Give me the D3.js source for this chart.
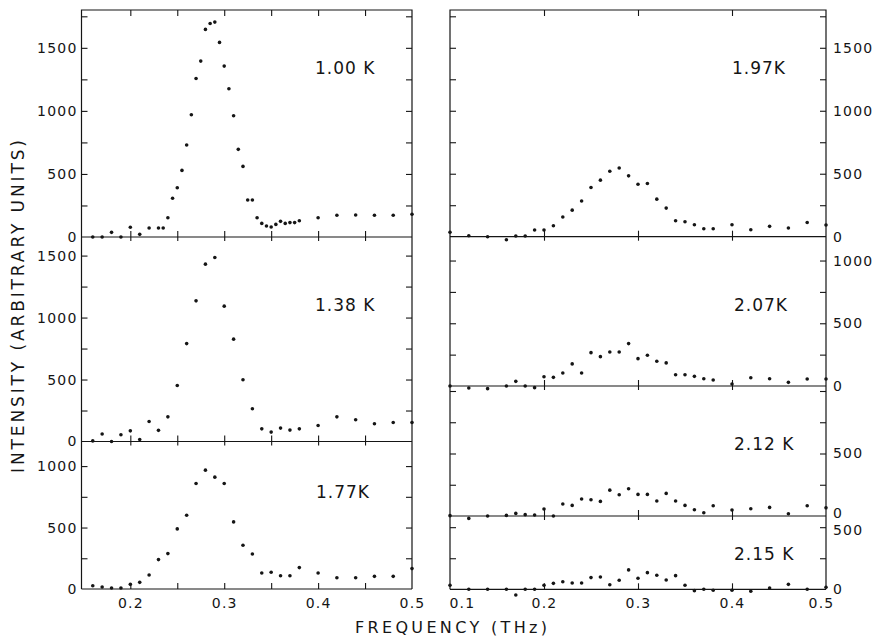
<!DOCTYPE html>
<html>
<head>
<meta charset="utf-8">
<script src="https://cdn.jsdelivr.net/npm/d3@7"></script>
<style>
  body { margin: 0; background: #fff; }
  svg text { font-family: "DejaVu Sans", sans-serif; fill: #151515; }
</style>
</head>
<body>
<svg id="chart" width="873" height="639"></svg>
<script>
// ---- data (frequency in THz, intensity in arbitrary units) ----
const freq100 = [0.16,0.17,0.18,0.19,0.20,0.21,0.22,0.23,0.235,0.24,0.245,0.25,0.255,0.26,0.265,0.27,0.275,0.28,0.285,0.29,0.295,0.30,0.305,0.31,0.315,0.32,0.325,0.33,0.335,0.34,0.345,0.35,0.355,0.36,0.365,0.37,0.375,0.38,0.40,0.42,0.44,0.46,0.48,0.50]
const int100 = [0,0,37,0,77,21,71,71,71,153,307,391,528,729,969,1257,1395,1646,1693,1704,1543,1355,1175,961,695,560,293,293,153,108,87,79,100,124,108,114,114,129,153,172,175,172,172,180]

const freqLeft = [0.16,0.17,0.18,0.19,0.20,0.21,0.22,0.23,0.24,0.25,0.26,0.27,0.28,0.29,0.30,0.31,0.32,0.33,0.34,0.35,0.36,0.37,0.38,0.40,0.42,0.44,0.46,0.48,0.50]
const int138 = [5,60,0,54,86,16,161,90,199,452,790,1135,1431,1484,1092,826,498,264,102,76,108,92,102,129,199,175,143,153,153]
const int177 = [27,16,8,8,38,54,114,239,288,489,600,858,967,910,858,546,356,285,130,136,108,108,174,130,92,92,103,103,166]

const freqRight = [0.10,0.12,0.14,0.16,0.17,0.18,0.19,0.20,0.21,0.22,0.23,0.24,0.25,0.26,0.27,0.28,0.29,0.30,0.31,0.32,0.33,0.34,0.35,0.36,0.37,0.38,0.40,0.42,0.44,0.46,0.48,0.50]
const int197 = [35,8,0,-24,5,5,53,53,87,156,211,283,391,449,520,546,483,417,422,298,227,127,119,95,63,63,95,55,82,69,113,93]
const int207 = [0,-16,-21,0,37,0,-13,74,69,104,176,104,266,234,271,271,338,218,245,197,184,90,90,77,58,48,16,66,58,29,56,56]
const int212 = [3,-19,0,5,21,11,8,56,0,96,85,136,130,117,207,170,218,173,173,120,181,120,85,50,26,82,48,58,69,18,82,66]
const int215 = [32,0,0,0,-46,0,0,32,48,61,51,51,94,99,37,73,156,89,134,113,75,110,32,-11,0,-8,-8,-16,10,40,0,16]

const tempLabels = ["1.00 K", "1.38 K", "1.77K", "1.97K", "2.07K", "2.12 K", "2.15 K"]

// tick labels
const xLabelsLeft = [0.2, 0.3, 0.4, 0.5]
const xLabelsRight = [0.1, 0.2, 0.3, 0.4, 0.5]
const xTicksLeft = [0.2, 0.25, 0.3, 0.35, 0.4, 0.45]
const xTicksRight = [0.2, 0.3, 0.4]
const yLabels = [[0,500,1000,1500], [0,500,1000,1500], [0,500,1000], [0,500,1000,1500], [0,500,1000], [0,500], [0,500]]

// ---- layout ----
const svg = d3.select("#chart")
const ink = "#151515"

const columns = [
  { x0: 81.5, x1: 412, dom: [0.148, 0.5], ticks: xTicksLeft, labels: xLabelsLeft, side: "left",
    rows: [{top: 10, zero: 237, max: 1800}, {top: 237, zero: 441.5, max: 1650}, {top: 441.5, zero: 589, max: 1200}] },
  { x0: 450, x1: 826, dom: [0.1, 0.5], ticks: xTicksRight, labels: xLabelsRight, side: "right",
    rows: [{top: 10, zero: 236.7, max: 1800}, {top: 236.7, zero: 386, max: 1190}, {top: 386, zero: 516, max: 1040}, {top: 516, zero: 589.3, max: 590}] }
]

const series = [
  {f: freq100, v: int100}, {f: freqLeft, v: int138}, {f: freqLeft, v: int177},
  {f: freqRight, v: int197}, {f: freqRight, v: int207}, {f: freqRight, v: int212}, {f: freqRight, v: int215}
]
const labelPos = [[315, 74], [315, 310.5], [316, 498], [732, 74], [734, 310.5], [734, 449.5], [734, 559.5]]

const cleanAxis = g => {
  g.select(".domain").remove()
  g.selectAll("line").attr("stroke", ink).attr("stroke-width", 1.1)
  g.selectAll("text").attr("fill", ink).style("font-family", '"DejaVu Sans", sans-serif')
    .style("font-size", "14px").style("letter-spacing", "1.2px")
}

let k = 0
columns.forEach(col => {
  const x = d3.scaleLinear().domain(col.dom).range([col.x0, col.x1])
  const bottom = col.rows[col.rows.length - 1].zero
  const top = col.rows[0].top

  // frame
  svg.append("path")
    .attr("d", `M${col.x0},${bottom}V${top}H${col.x1}V${bottom}`)
    .attr("fill", "none").attr("stroke", ink).attr("stroke-width", 1.2)

  // x ticks on the top border
  svg.append("g").attr("transform", `translate(0,${top})`)
    .call(d3.axisBottom(x).tickValues(col.ticks).tickSize(6).tickFormat(""))
    .call(cleanAxis)

  col.rows.forEach((r, i) => {
    const s = series[k]
    const y = d3.scaleLinear().domain([0, r.max]).range([r.zero, r.top])
    const last = i === col.rows.length - 1

    // zero line with crossing ticks
    svg.append("line").attr("x1", col.x0).attr("x2", col.x1)
      .attr("y1", r.zero).attr("y2", r.zero).attr("stroke", ink).attr("stroke-width", 1.2)
    svg.append("g").attr("transform", `translate(0,${r.zero})`)
      .call(d3.axisTop(x).tickValues(col.ticks).tickSize(6).tickFormat(""))
      .call(cleanAxis)
    if (!last) {
      svg.append("g").attr("transform", `translate(0,${r.zero})`)
        .call(d3.axisBottom(x).tickValues(col.ticks).tickSize(4).tickFormat(""))
        .call(cleanAxis)
    }

    // y ticks, inward on both edges
    const minor = d3.range(250, r.max, 250)
    svg.append("g").attr("transform", `translate(${col.x0},0)`)
      .call(d3.axisRight(y).tickValues(minor).tickSize(6).tickFormat(""))
      .call(cleanAxis)
    svg.append("g").attr("transform", `translate(${col.x1},0)`)
      .call(d3.axisLeft(y).tickValues(minor).tickSize(6).tickFormat(""))
      .call(cleanAxis)

    // y labels on the outer side
    const yAxis = col.side === "left"
      ? d3.axisLeft(y).tickPadding(4)
      : d3.axisRight(y).tickPadding(7)
    const gy = svg.append("g").attr("transform", `translate(${col.side === "left" ? col.x0 : col.x1},0)`)
      .call(yAxis.tickValues(yLabels[k]).tickSize(0).tickFormat(d3.format("d")))
      .call(cleanAxis)
    // the stacked "0" / "500" pair between the two lowest right panels
    if (col.side === "right" && i === 2) gy.selectAll(".tick text").filter(d => d === 0).attr("dy", "0.1em")
    if (col.side === "right" && i === 3) gy.selectAll(".tick text").filter(d => d === 500).attr("dy", "0.5em")

    // points
    svg.append("g").selectAll("circle")
      .data(s.f.map((f, j) => [f, s.v[j]]))
      .join("circle")
      .attr("cx", d => x(d[0]))
      .attr("cy", d => y(d[1]))
      .attr("r", 1.8)
      .attr("fill", ink)

    // temperature label
    svg.append("text")
      .attr("x", labelPos[k][0]).attr("y", labelPos[k][1])
      .style("font-size", "17px").style("letter-spacing", "1px")
      .text(tempLabels[k])

    k++
  })

  // frequency labels under the bottom line
  const gx = svg.append("g").attr("transform", `translate(0,${bottom})`)
    .call(d3.axisBottom(x).tickValues(col.labels).tickSize(0).tickPadding(9).tickFormat(d3.format(".1f")))
    .call(cleanAxis)
  gx.selectAll(".tick text")
    .filter(d => d === 0.1)
    .attr("text-anchor", "start").attr("dx", -1)
  if (col.side === "right") {
    gx.selectAll(".tick text").filter(d => d === 0.5).attr("dx", -5)
  }
})

// axis titles
svg.append("text")
  .attr("x", 355).attr("y", 633)
  .attr("textLength", 192).attr("lengthAdjust", "spacing")
  .style("font-size", "16px")
  .text("FREQUENCY (THz)")

svg.append("text")
  .attr("transform", "translate(24,306.5) rotate(-90)")
  .attr("text-anchor", "middle")
  .attr("textLength", 333).attr("lengthAdjust", "spacing")
  .style("font-size", "17px")
  .text("INTENSITY (ARBITRARY UNITS)")
</script>
</body>
</html>
